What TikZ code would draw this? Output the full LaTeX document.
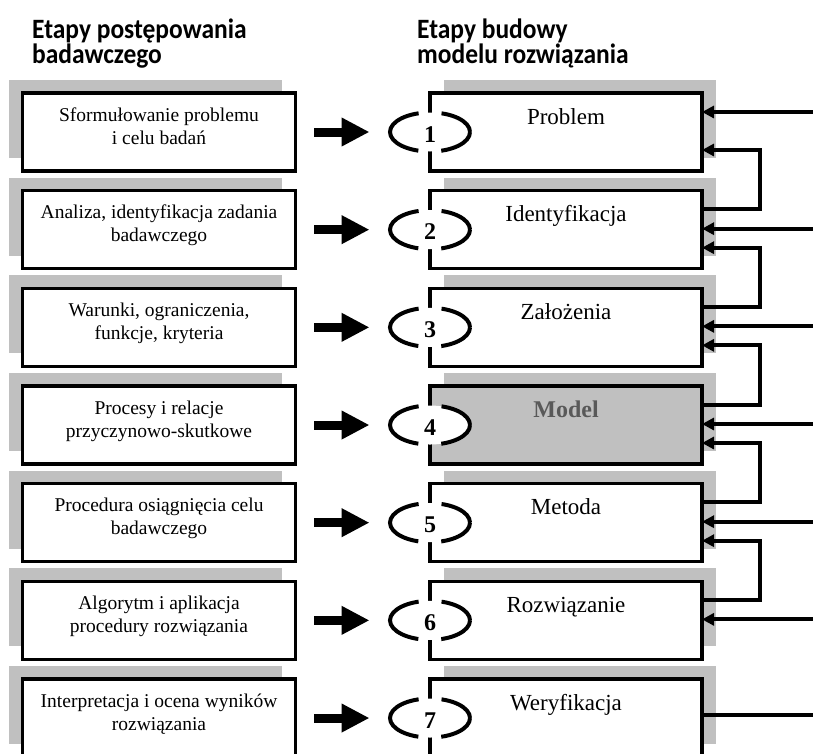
\documentclass[tikz,border=0pt]{standalone}
\usepackage{fontspec}
\setmainfont{Liberation Serif}
\newfontfamily\headfont{Carlito}
\usetikzlibrary{arrows.meta,shapes.geometric,shadows}
\definecolor{shade}{RGB}{192,192,192}
\definecolor{modeltext}{RGB}{89,89,89}
\newcommand{\headline}[1]{{\headfont\bfseries\fontsize{28}{25}\selectfont\scalebox{0.91}[1]{#1}}}

\begin{document}
\begin{tikzpicture}[x=1pt,y=-1pt,
  stagebox/.style={draw=black, line width=3.2pt, fill=white, minimum height=78pt,
    inner sep=0pt, outer sep=0pt},
  leftbox/.style={stagebox, minimum width=273pt,
    general shadow={fill=shade, shadow xshift=-14pt, shadow yshift=13pt}},
  rightbox/.style={stagebox, minimum width=272pt,
    general shadow={fill=shade, shadow xshift=14pt, shadow yshift=13pt}},
  modelbox/.style={rightbox, fill=shade},
  lefttext/.style={font=\fontsize{19.5}{23}\selectfont, align=center, inner sep=0pt},
  righttext/.style={font=\fontsize{23}{27}\selectfont, inner sep=0pt, anchor=base},
  modeltxt/.style={font=\fontsize{24}{28}\selectfont\bfseries, text=modeltext, inner sep=0pt, anchor=base},
  numring/.style={ellipse, fill=white, draw=black, line width=4pt, inner sep=0pt,
    minimum width=80pt, minimum height=39pt,
    dash pattern=on 73pt off 23pt, dash phase=36.5pt},
  numtext/.style={font=\fontsize{24}{28}\selectfont\bfseries, inner sep=0pt, anchor=base},
  bigarrow/.style={line width=9pt, -{Triangle[length=28pt,width=27pt]},
    shorten <=18.5pt, shorten >=18.5pt},
  link/.style={line width=4pt, line join=miter, -{Triangle[length=12pt,width=12pt]}},
  plainlink/.style={line width=4pt},
]
\useasboundingbox (0,0) rectangle (813,753);

% column headings
\node[anchor=base west, inner sep=0pt] (hl1) at (32,38) {\headline{Etapy postępowania}};
\node[anchor=base west, inner sep=0pt] (hl2) at (32,63) {\headline{badawczego}};
\node[anchor=base west, inner sep=0pt] (hr1) at (417,38) {\headline{Etapy budowy}};
\node[anchor=base west, inner sep=0pt] (hr2) at (417,63) {\headline{modelu rozwiązania}};

% two columns of stages
\foreach \i/\lt/\rt/\rs/\rts in {
  1/{\strut Sformułowanie problemu\\\strut i celu badań}/Problem/rightbox/righttext,
  2/{\strut Analiza, identyfikacja zadania\\\strut badawczego}/Identyfikacja/rightbox/righttext,
  3/{\strut Warunki, ograniczenia,\\\strut funkcje, kryteria}/Założenia/rightbox/righttext,
  4/{\strut Procesy i relacje\\\strut przyczynowo-skutkowe}/Model/modelbox/modeltxt,
  5/{\strut Procedura osiągnięcia celu\\\strut badawczego}/Metoda/rightbox/righttext,
  6/{\strut Algorytm i aplikacja\\\strut procedury rozwiązania}/Rozwiązanie/rightbox/righttext,
  7/{\strut Interpretacja i ocena wyników\\\strut rozwiązania}/Weryfikacja/rightbox/righttext}{
  \pgfmathsetmacro\T{92+97.67*(\i-1)}
  \node[leftbox] (L\i) at (159,\T+40) {};
  \node[lefttext] (LT\i) at ([yshift=4pt]L\i.center) {\lt};
  \node[\rs] (R\i) at (566,\T+40) {};
  \node[\rts] (RT\i) at ([yshift=8pt]R\i.center) {\rt};
  \node[numring] (E\i) at (R\i.west) {};
  \node[numtext] (N\i) at ([yshift=-10pt]E\i.center) {\i};
  \draw[bigarrow] (L\i.east) -- (E\i.west);
  % attachment points on the right side of each stage
  \coordinate (out\i) at ([yshift=20.5pt]R\i.east);
  \coordinate (in\i) at ([yshift=1pt]R\i.east);
  \coordinate (fb\i) at ([yshift=-18pt]R\i.east);
}

\coordinate (rim) at (813,0);
\coordinate (rail) at (760,0);

% incoming links from the right edge
\coordinate (in1) at ([yshift=20pt]R1.east);
\foreach \i in {1,...,6}{
  \draw[link] (in\i -| rim) -- (in\i);
}
% feedback from each stage to the previous one
\foreach \i/\j in {1/2,2/3,3/4,4/5,5/6}{
  \draw[link] (out\j) -- (out\j -| rail) -- (fb\i -| rail) -- (fb\i);
}
% outgoing line from the last stage
\coordinate (out7) at ([yshift=3pt]R7.east);
\draw[plainlink] (out7) -- (out7 -| rim);
\end{tikzpicture}
\end{document}
